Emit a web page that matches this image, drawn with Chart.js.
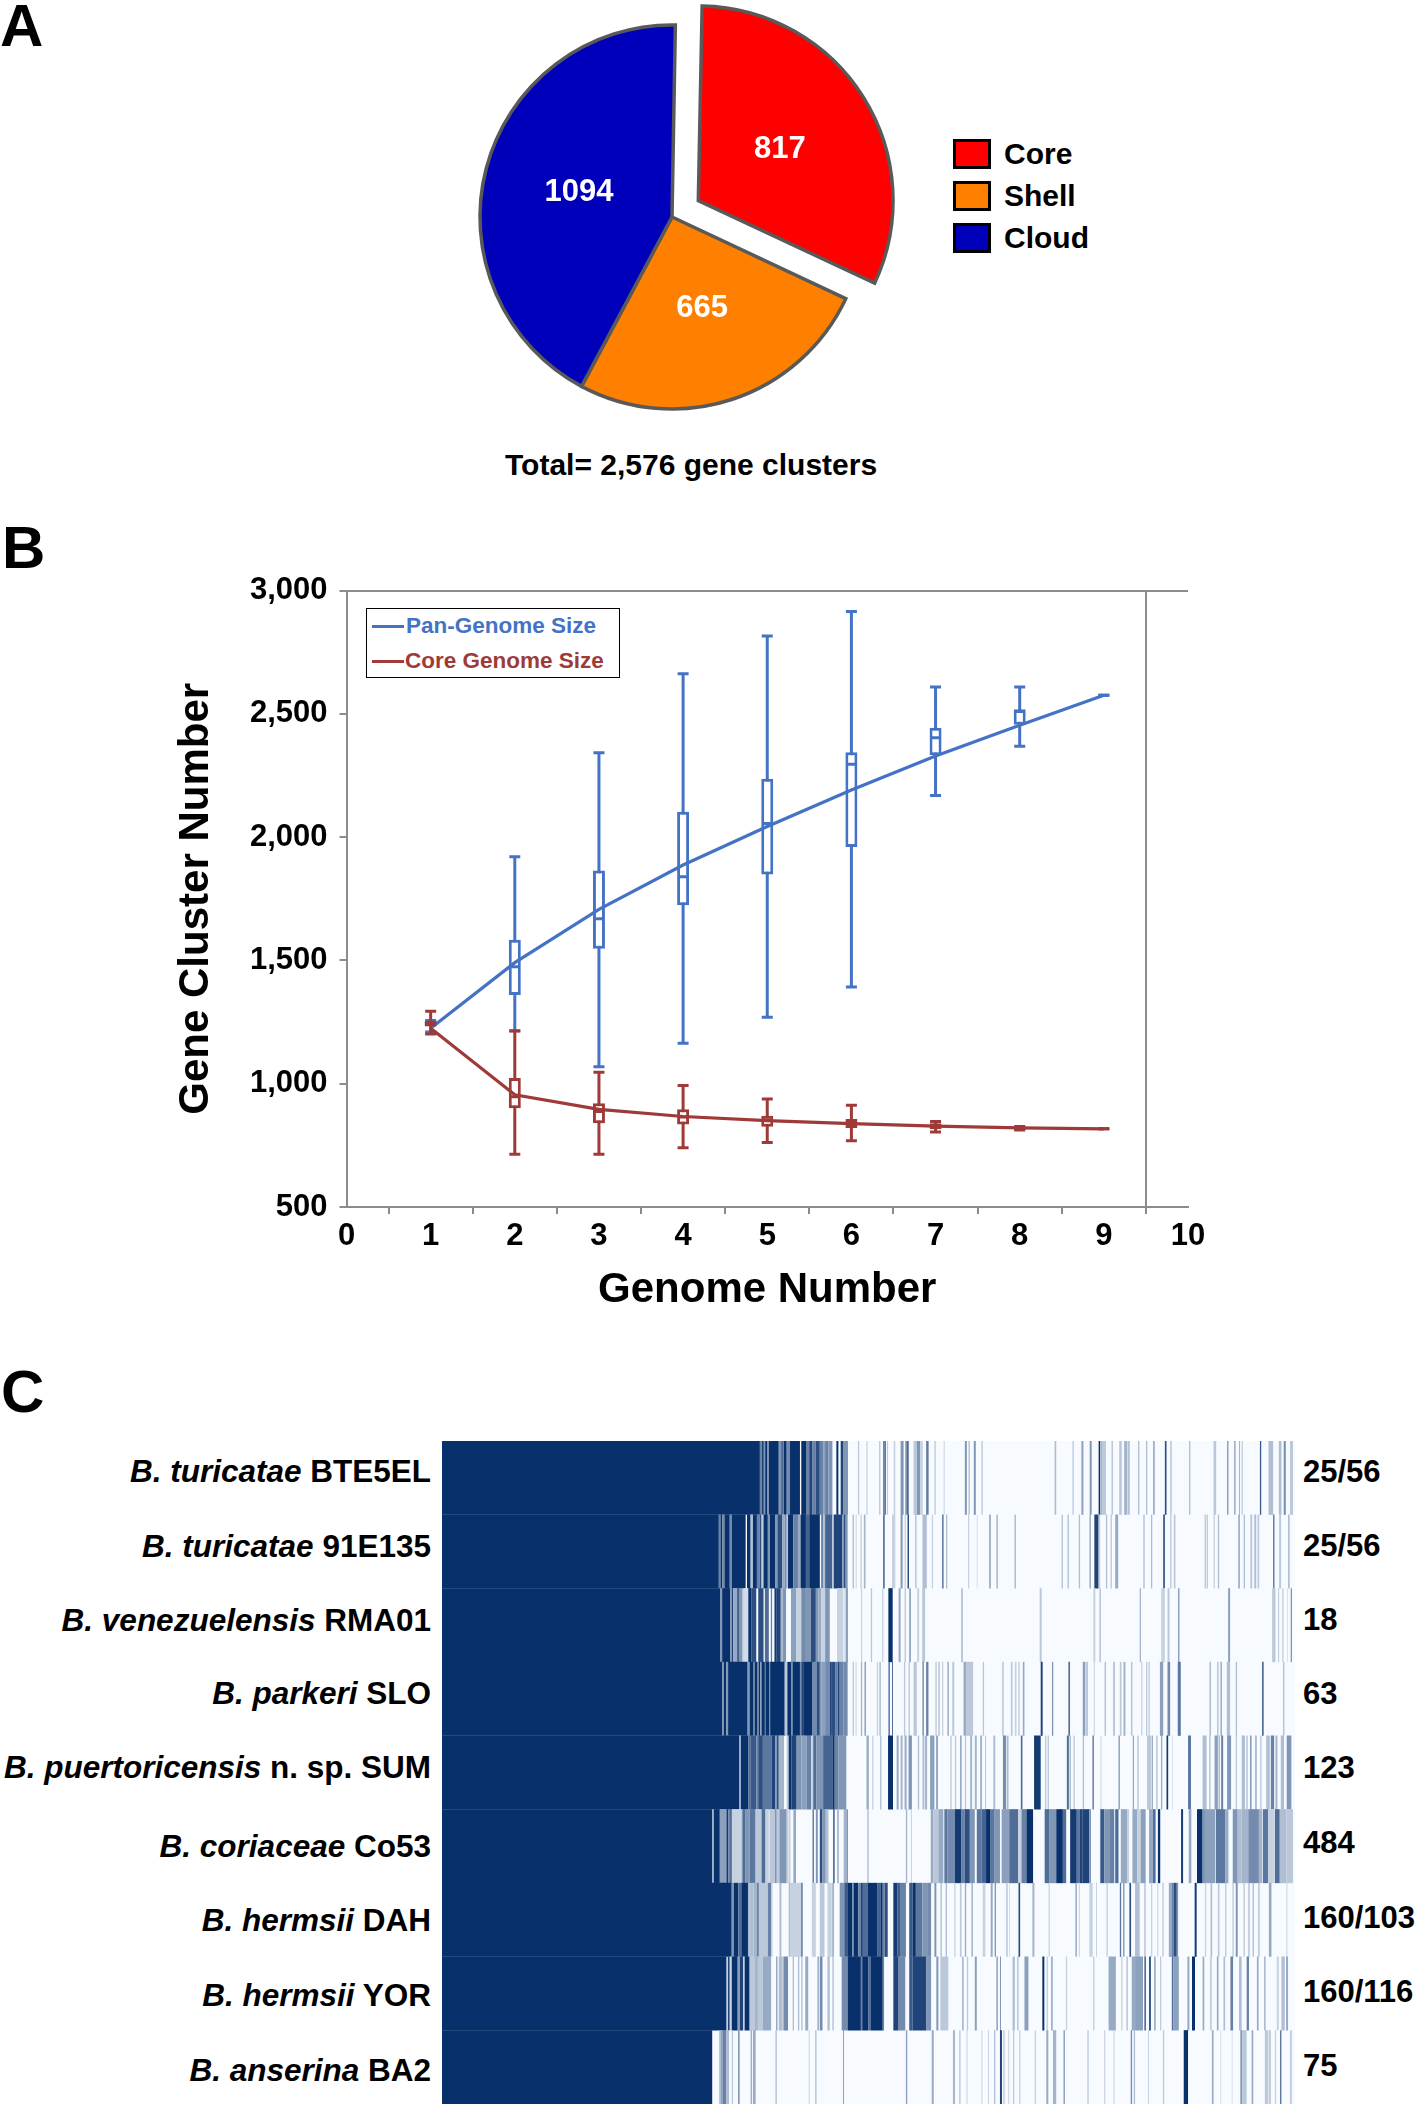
<!DOCTYPE html>
<html>
<head>
<meta charset="utf-8">
<script src="https://cdn.jsdelivr.net/npm/chart.js@4/dist/chart.umd.min.js"></script>
<style>
  html, body { margin: 0; padding: 0; background: #fff; }
  #page { position: relative; width: 1416px; height: 2107px; overflow: hidden; font-family: "Liberation Sans", Arial, sans-serif; font-weight: bold; color: #000; }
  #page canvas { position: absolute; }
  .txt { position: absolute; white-space: nowrap; line-height: 1; transform: translateY(-50%); }
  .swatch { position: absolute; width: 32px; height: 24px; border: 3px solid #000; }
  .strain { right: 985px; font-size: 31.5px; }
  .count { left: 1303px; font-size: 31px; }
  #lineLegend { position: absolute; left: 366px; top: 608px; width: 252px; height: 68px; border: 1.5px solid #000; background: #fff; }
  #lineLegend span.key { position: absolute; left: 5px; width: 32px; height: 3px; }
  #lineLegend .txt { font-size: 22.5px; }
</style>
</head>
<body>
<div id="page">
  <div class="txt" style="left:0;top:26px;font-size:60px">A</div>
  <div class="txt" style="left:2px;top:548px;font-size:60px">B</div>
  <div class="txt" style="left:1px;top:1392px;font-size:60px">C</div>

  <canvas id="pieChart"></canvas>
  <div class="swatch" style="left:953px;top:139px;background:#FF0000"></div>
  <div class="swatch" style="left:953px;top:181px;background:#FF8000"></div>
  <div class="swatch" style="left:953px;top:223px;background:#0000BB"></div>
  <div class="txt" style="left:1004px;top:154px;font-size:30px">Core</div>
  <div class="txt" style="left:1004px;top:196px;font-size:30px">Shell</div>
  <div class="txt" style="left:1004px;top:238px;font-size:30px">Cloud</div>
  <div class="txt" style="left:505px;top:465px;font-size:30px">Total= 2,576 gene clusters</div>

  <canvas id="lineChart"></canvas>
  <div id="lineLegend">
    <span class="key" style="top:16px;background:#4472C4"></span>
    <div class="txt" style="left:39px;top:17px;color:#4472C4">Pan-Genome Size</div>
    <span class="key" style="top:51px;background:#9E3A38"></span>
    <div class="txt" style="left:38px;top:52px;color:#9E3A38">Core Genome Size</div>
  </div>

  <canvas id="heatChart"></canvas>
  <div class="txt strain" style="top:1472px"><i>B. turicatae</i> BTE5EL</div>
  <div class="txt strain" style="top:1547px"><i>B. turicatae</i> 91E135</div>
  <div class="txt strain" style="top:1621px"><i>B. venezuelensis</i> RMA01</div>
  <div class="txt strain" style="top:1694px"><i>B. parkeri</i> SLO</div>
  <div class="txt strain" style="top:1768px"><i>B. puertoricensis</i> n. sp. SUM</div>
  <div class="txt strain" style="top:1847px"><i>B. coriaceae</i> Co53</div>
  <div class="txt strain" style="top:1921px"><i>B. hermsii</i> DAH</div>
  <div class="txt strain" style="top:1996px"><i>B. hermsii</i> YOR</div>
  <div class="txt strain" style="top:2071px"><i>B. anserina</i> BA2</div>
  <div class="txt count" style="top:1471px">25/56</div>
  <div class="txt count" style="top:1545px">25/56</div>
  <div class="txt count" style="top:1619px">18</div>
  <div class="txt count" style="top:1693px">63</div>
  <div class="txt count" style="top:1767px">123</div>
  <div class="txt count" style="top:1842px">484</div>
  <div class="txt count" style="top:1917px">160/103</div>
  <div class="txt count" style="top:1991px">160/116</div>
  <div class="txt count" style="top:2065px">75</div>
</div>

<script>
// Panel A
const pieLabels = ['Core', 'Shell', 'Cloud'];
const pieValues = [817, 665, 1094];
const pieColors = ['#FF0000', '#FF8000', '#0000BB'];

// Panel B: values for genome numbers 1..9
const genomeTicks = ['0', '1', '2', '3', '4', '5', '6', '7', '8', '9', '10'];
const panMean   = [1225, 1491, 1707, 1887, 2043, 2191, 2329, 2454, 2576];
const panMax    = [1256, 1921, 2342, 2663, 2816, 2915, 2609, 2609, 2576];
const panQ3     = [1250, 1584, 1865, 2103, 2237, 2344, 2444, 2519, null];
const panMedian = [1245, 1474, 1669, 1839, 2055, 2296, 2403, 2510, null];
const panQ1     = [1235, 1360, 1547, 1724, 1849, 1960, 2332, 2456, null];
const panMin    = [1210, 1215, 1069, 1164, 1270, 1392, 2169, 2369, 2576];
const coreMean   = [1225, 955, 896, 867, 850, 838, 828, 821, 817];
const coreMax    = [1294, 1214, 1047, 993, 938, 913, 847, 826, 817];
const coreQ3     = [1256, 1023, 921, 896, 870, 857, 840, 826, null];
const coreMedian = [1245, 947, 887, 865, 853, 845, 828, 820, null];
const coreQ1     = [1232, 901, 840, 835, 825, 820, 815, 812, null];
const coreMin    = [1202, 714, 714, 740, 762, 769, 804, 812, 817];

// Panel C: runs of gene clusters [first, last, share present] (share 1 if left out)
const totalClusters = 2576;
const strains = ['BTE5EL', '91E135', 'RMA01', 'SLO', 'SUM', 'Co53', 'DAH', 'YOR', 'BA2'];
const runsBTE5EL = [[0,960],[960,965,.6],[965,972,.9],[972,976,.5],[976,983],[983,987,.5],[987,1017],[1017,1025,.5],[1025,1029],[1029,1032,.6],[1032,1041],[1041,1051,.55],[1051,1081],[1085,1101],[1101,1109,.6],[1109,1119,.9],[1119,1129,.6],[1129,1141,.85],[1141,1151,.6],[1151,1157,.45],[1157,1167,.6],[1167,1179,.5],[1191,1197],[1204,1211,.9],[1211,1226,.5],
  [1256,1260,.25],[1282,1285,.25],[1320,1324,.25],[1332,1337,.6],[1337,1340,.9],[1344,1347,.25],[1364,1369,.2],[1385,1394,.5],[1399,1405,.5],[1405,1409,.9],[1424,1434,.25],[1434,1444,.5],[1444,1452,.2],[1462,1466,.6],[1466,1469,.9],[1487,1491,.25],[1515,1518,.2],[1579,1585,.5],[1590,1594,.3],[1606,1612,.5],[1629,1633,.25],
  [1850,1855,.3],[1904,1908,.25],[1931,1937,.45],[1956,1962,.5],[1983,1988],[1990,1995,.35],[1995,2005,.25],[2022,2026,.3],[2045,2053,.25],[2060,2070,.35],[2073,2076,.5],[2102,2106,.3],[2126,2130,.3],[2148,2152,.5],[2183,2188,.85],[2200,2203,.4],[2256,2260,.3],[2330,2338,.25],[2371,2375,.5],[2393,2396,.6],[2407,2410,.35],[2415,2418,.3],[2470,2474,.8],[2496,2510,.3],[2527,2535,.3],[2542,2548,.55],[2561,2570,.25]];
const runs91E135 = [[0,836],[836,841,.6],[841,847],[847,853,.55],[853,869],[869,875,.55],[875,917],[921,932],[932,939,.3],[939,951],[951,959,.6],[959,965,.85],[965,971,.25],[971,984],[984,990,.5],[990,1007],[1007,1013,.5],[1013,1027,.85],[1027,1035,.4],[1035,1041,.55],[1041,1045,.25],[1045,1061],[1061,1075,.6],[1075,1083,.4],[1083,1099],[1099,1109,.75],[1109,1141],[1145,1151,.6],[1151,1157,.3],[1157,1179,.75],[1179,1183,.2],[1183,1209,.9],[1209,1213,.5],[1213,1219,.85],[1219,1225,.5],
  [1240,1244,.3],[1249,1253,.15],[1264,1267,.3],[1274,1279,.35],[1332,1337,.7],[1359,1369,.2],[1385,1391,.5],[1397,1401,.2],[1406,1410,.95],[1429,1433,.3],[1451,1464,.3],[1479,1483,.2],[1510,1515,.6],[1522,1526,.3],[1589,1592,.25],[1615,1617,.2],[1652,1658,.35],[1674,1679,.3],
  [1729,1733,.35],[1871,1875,.3],[1889,1893,.3],[1923,1927,.3],[1955,1960,.35],[1970,1983,.9],[1983,1988,.2],[2005,2009,.3],[2019,2023,.25],[2033,2042,.4],[2118,2122,.3],[2141,2145,.3],[2178,2183,.85],[2199,2203,.25],[2210,2215,.25],[2303,2307,.25],[2309,2313,.25],[2330,2334,.2],[2343,2347,.3],[2405,2409,.5],[2421,2425,.3],[2441,2447,.25],[2453,2459,.3],[2463,2468,.25],[2510,2514,.7],[2528,2534,.25],[2555,2560,.3]];
const runsRMA01 = [[0,841],[841,846,.5],[846,871],[871,875,.5],[875,879,.9],[879,891,.4],[891,899,.75],[899,907,.5],[907,911,.3],[911,925,.15],[925,935],[935,949,.85],[955,971,.85],[975,987,.7],[993,997,.6],[1004,1011,.95],[1011,1023,.9],[1023,1029,.35],[1029,1039,.5],[1054,1069,.45],[1069,1085,.2],[1085,1099,.55],[1099,1114,.5],[1114,1129,.85],[1129,1137,.5],[1137,1145,.4],[1145,1157,.2],[1157,1171,.5],[1193,1211,.2],[1211,1219,.1],[1219,1226,.45],
  [1266,1269,.25],[1295,1299,.25],[1329,1333,.2],[1348,1361],[1379,1385,.4],[1397,1401,.25],[1411,1416,.45],[1435,1441,.2],[1450,1459,.25],[1568,1573,.3],
  [1805,1811,.25],[1967,1973,.2],[1985,1990,.25],[2107,2111,.35],[2172,2183,.2],[2191,2197,.25],[2223,2227,.5],[2374,2380,.45],[2507,2517,.25],[2525,2528,.25],[2538,2541,.3],[2553,2555,.2],[2563,2567,.5]];
const runsSLO = [[0,847],[847,851,.5],[851,859],[859,864,.5],[864,923],[923,929,.5],[929,941],[941,945,.6],[945,953],[953,957,.6],[957,961],[961,965,.5],[965,975],[975,978,.7],[978,988],[988,991,.6],[991,1035],[1035,1043,.25],[1043,1055],[1055,1059,.6],[1059,1081],[1081,1085,.55],[1085,1093,.9],[1093,1119],[1119,1131,.55],[1131,1141,.85],[1141,1145,.5],[1145,1157,.45],[1157,1171,.55],[1171,1175,.9],[1175,1187,.85],[1187,1195,.6],[1195,1201,.9],[1201,1213,.6],[1213,1225,.55],
  [1240,1244,.25],[1249,1252,.2],[1265,1269,.35],[1276,1280,.5],[1313,1317,.2],[1321,1325,.35],[1348,1353,.6],[1359,1362,.7],[1395,1399,.25],[1409,1413,.25],[1424,1434,.25],[1451,1455,.6],[1462,1469,.6],[1490,1494,.25],[1499,1503,.3],[1510,1514,.2],[1526,1531,.35],[1541,1547,.25],[1575,1584,.4],[1584,1604,.25],[1633,1637,.25],
  [1691,1697,.2],[1718,1723,.25],[1730,1735,.2],[1740,1745,.2],[1754,1759,.4],[1808,1814,.9],[1842,1846,.5],[1892,1896,.85],[1935,1943,.45],[1945,1951,.25],[1968,1972,.15],[2001,2005,.3],[2027,2032,.3],[2047,2052,.25],[2058,2064,.35],[2081,2085,.3],[2112,2115,.25],[2126,2130,.25],[2134,2137,.3],[2168,2178,.45],[2191,2199,.55],[2222,2231,.65],[2318,2322,.35],[2341,2345,.3],[2351,2355,.45],[2370,2380,.3],[2397,2401,.3],[2477,2481,.9],[2540,2544,.3]];
const runsSUM = [[0,897],[897,903,.4],[903,925],[925,931,.7],[931,949,.8],[949,955,.6],[955,969,.85],[969,995,.65],[995,1007,.9],[1007,1011,.5],[1011,1017,.85],[1017,1033,.35],[1041,1047,.25],[1047,1055],[1055,1071,.9],[1071,1085,.5],[1085,1101,.45],[1101,1115,.6],[1115,1121,.2],[1121,1131,.7],[1131,1151,.5],[1151,1179,.75],[1179,1186],[1186,1197,.6],[1197,1211,.5],[1211,1221,.5],
  [1282,1289,.4],[1299,1303,.2],[1323,1327,.3],[1347,1362],[1373,1379,.4],[1385,1391,.35],[1397,1403,.4],[1409,1419,.5],[1437,1441,.3],[1451,1457,.3],[1459,1465,.35],[1474,1487,.45],[1493,1497,.6],[1535,1539,.25],[1549,1553,.25],[1565,1569,.5],[1579,1583,.25],[1595,1601,.35],[1609,1615,.35],[1625,1631,.35],[1641,1643,.4],[1665,1671,.3],
  [1694,1703,.55],[1705,1711,.3],[1748,1753,.7],[1788,1808,.95],[1821,1825,.25],[1829,1833,.25],[1887,1893,.7],[1895,1899,.35],[1907,1911,.25],[1935,1939,.3],[1964,1969,.55],[1988,1992,.15],[2043,2047,.5],[2086,2090,.4],[2100,2104,.3],[2129,2141,.25],[2143,2147,.4],[2157,2161,.3],[2172,2175,.5],[2188,2193,.95],[2205,2207,.2],[2253,2262,.65],[2297,2309,.3],[2317,2321,.3],[2333,2343,.45],[2345,2349,.35],[2353,2359,.6],[2371,2383,.5],[2397,2401,.25],[2415,2425,.3],[2429,2433,.3],[2440,2445,.45],[2455,2461,.3],[2471,2475,.25],[2489,2500,.3],[2503,2513,.6],[2517,2523,.35],[2533,2543,.3],[2551,2565,.5]];
const runsCo53 = [[0,816],[816,821,.4],[821,839],[839,859,.45],[859,865,.95],[865,871,.6],[871,875],[875,901,.2],[901,907,.25],[907,917,.7],[917,929,.5],[929,947,.65],[947,965,.25],[965,977,.7],[977,987,.2],[989,1005,.25],[1005,1011,.5],[1011,1019,.25],[1019,1041,.5],[1041,1047,.2],[1049,1052,.3],[1061,1069,.4],[1119,1123,.7],[1129,1135,.5],[1141,1149,.85],[1149,1159,.5],[1159,1167,.3],[1181,1186,.7],[1193,1199,.3],[1213,1221,.35],[1221,1226,.5],
  [1284,1289,.25],[1401,1405,.35],[1416,1419,.2],[1476,1484,.4],[1484,1499,.25],[1499,1514,.4],[1517,1527,.65],[1527,1549,.55],[1549,1569,.95],[1569,1579,.6],[1579,1594,.85],[1594,1609,.5],[1615,1629,.65],[1629,1643,.75],[1643,1655],[1655,1669,.65],[1669,1685,.5],
  [1690,1713,.45],[1713,1740,.7],[1740,1750,.2],[1750,1765,.6],[1765,1785],[1820,1835,.7],[1835,1855,.5],[1855,1875],[1875,1885,.7],[1897,1917,.95],[1917,1925,.65],[1925,1935,.9],[1935,1955,.9],[1955,1960,.5],[1988,2000,.8],[2000,2015,.5],[2015,2030,.6],[2033,2043,.7],[2050,2070,.4],[2070,2075,.2],[2085,2100,.4],[2100,2110,.2],[2110,2125,.45],[2135,2147,.4],[2147,2155,.7],[2162,2169],[2232,2238,.95],[2255,2263,.4],[2280,2297],[2297,2307,.5],[2307,2335,.45],[2337,2365,.65],[2365,2375,.4],[2388,2403,.5],[2403,2415,.3],[2415,2435,.35],[2435,2467,.55],[2467,2477,.35],[2479,2495,.65],[2495,2513,.2],[2515,2530,.7],[2530,2550,.3],[2550,2570,.25]];
const runsDAH = [[0,875],[875,881,.5],[881,895],[895,904,.7],[904,924],[924,929,.35],[929,941,.3],[941,951,.35],[951,957,.6],[957,984,.25],[984,995,.6],[995,999,.15],[1019,1025,.3],[1047,1051,.3],[1051,1063,.2],[1063,1085,.2],[1085,1089,.75],[1117,1129,.2],[1141,1155,.25],[1164,1177,.2],[1179,1183,.5],[1201,1215,.5],[1215,1226,.8],
  [1226,1239],[1239,1244,.6],[1244,1257],[1257,1265,.6],[1265,1271,.9],[1271,1285,.7],[1285,1314],[1314,1324,.75],[1324,1331],[1331,1337,.6],[1337,1346,.85],
  [1363,1375,.95],[1375,1383,.8],[1383,1401,.6],[1411,1421,.8],[1421,1431],[1431,1451,.65],[1451,1465,.5],[1465,1477,.55],
  [1487,1493,.5],[1505,1510,.25],[1521,1525,.3],[1547,1551,.2],[1564,1569,.25],[1579,1583,.4],[1599,1603,.4],[1633,1641,.2],[1657,1663,.4],[1669,1673,.5],
  [1703,1709,.2],[1713,1715,.2],[1741,1746,.85],[1783,1789,.35],[1832,1835,.25],[1913,1917,.45],[1923,1926,.2],[1955,1965,.2],[1975,1978,.2],[2007,2010,.3],[2047,2051,.65],[2057,2061,.5],[2076,2081,.85],[2093,2107,.3],[2121,2125,.3],[2141,2145,.2],[2160,2163,.2],[2175,2180,.2],[2195,2203,.4],[2203,2209,.6],[2209,2219,.85],[2219,2223,.5],[2273,2279,.95],[2304,2308,.2],[2321,2326,.3],[2343,2348,.25],[2365,2369,.25],[2387,2391,.25],[2397,2403,.5],[2420,2425,.2],[2435,2439,.3],[2448,2452,.3],[2465,2469,.3],[2497,2505,.4],[2550,2553,.2]];
const runsYOR = [[0,859],[863,869,.9],[869,875,.2],[875,893],[893,899,.45],[899,909,.9],[909,914,.2],[914,929],[929,944,.25],[944,954,.35],[954,969,.25],[969,994,.4],[1009,1013,.45],[1017,1029,.3],[1031,1045,.55],[1059,1063,.3],[1075,1079,.3],[1085,1089,.3],[1097,1106,.4],[1134,1138,.45],[1141,1149,.55],[1164,1171,.3],[1179,1183,.3],[1207,1225,.55],
  [1225,1265],[1265,1269,.6],[1269,1287],[1287,1294,.7],[1294,1331],[1331,1335,.6],
  [1363,1379,.9],[1379,1399,.55],[1411,1421,.8],[1421,1463,.9],[1463,1477,.5],[1493,1499,.5],[1505,1529,.25],[1571,1575,.4],[1585,1589,.25],[1609,1615,.45],[1674,1679,.4],
  [1685,1688,.5],[1723,1730,.3],[1737,1741,.3],[1759,1771,.45],[1813,1819],[1826,1829,.3],[1840,1844,.5],[1884,1888,.2],[1967,1970,.3],[2013,2035,.4],[2051,2055,.2],[2067,2071,.3],[2083,2093,.4],[2093,2117,.45],[2121,2126,.7],[2135,2141,.8],[2151,2155,.5],[2169,2172,.3],[2204,2209,.7],[2209,2225,.45],[2251,2257,.4],[2265,2274],[2297,2302,.4],[2319,2325,.2],[2340,2345,.4],[2360,2365,.3],[2381,2389,.6],[2407,2415,.3],[2430,2437,.6],[2461,2466,.4],[2483,2487,.4],[2521,2527,.2],[2535,2545,.3],[2549,2555,.4]];
const runsBA2 = [[0,816],[837,841,.3],[841,847,.45],[847,859,.6],[859,867,.3],[875,879,.25],[894,899,.5],[932,936,.4],[939,947,.4],[1007,1011,.3],[1107,1111,.15],[1127,1131,.3],[1211,1214,.45],[1401,1405,.45],[1479,1485,.4],[1543,1549,.35],[1562,1566,.25],[1584,1587,.2],[1629,1632,.2],[1649,1652,.2],[1667,1671,.3],
  [1685,1691,.9],[1695,1699,.25],[1710,1713,.2],[1725,1728,.3],[1743,1747,.2],[1790,1794,.2],[1825,1831,.4],[1845,1855,.35],[1877,1881,.5],[1949,1953,.25],[2000,2003,.25],[2028,2031,.2],[2080,2084,.55],[2089,2093,.3],[2132,2135,.2],[2177,2181,.25],[2240,2253],[2325,2330,.4],[2351,2353,.2],[2385,2387,.2],[2411,2417,.5],[2417,2430,.25],[2445,2450,.4],[2485,2495,.25],[2497,2503,.25],[2515,2519,.2],[2531,2535,.7],[2561,2566,.25]];
const allRuns = [runsBTE5EL, runs91E135, runsRMA01, runsSLO, runsSUM, runsCo53, runsDAH, runsYOR, runsBA2];

Chart.defaults.animation = false;
Chart.defaults.font.family = '"Liberation Sans", Arial, sans-serif';
Chart.defaults.plugins.legend.display = false;
Chart.defaults.plugins.tooltip.enabled = false;

const place = (id, left, top, w, h) => {
    const c = document.getElementById(id);
    c.style.left = left + 'px';
    c.style.top = top + 'px';
    c.style.width = w + 'px';
    c.style.height = h + 'px';
    c.width = w;
    c.height = h;
    return c;
};

// ---- A: pie, the Core slice pulled out
const pieOffset = [124, 0, 0];
const sliceNumbers = {
    id: 'sliceNumbers',
    afterDatasetsDraw(chart) {
        const ctx = chart.ctx;
        ctx.save();
        ctx.fillStyle = '#fff';
        ctx.font = 'bold 31px "Liberation Sans"';
        ctx.textAlign = 'center';
        ctx.textBaseline = 'middle';
        chart.getDatasetMeta(0).data.forEach((arc, i) => {
            const mid = (arc.startAngle + arc.endAngle) / 2;
            const r = arc.outerRadius / 2 + pieOffset[i] / 4;
            ctx.fillText(pieValues[i], arc.x + Math.cos(mid) * r, arc.y + Math.sin(mid) * r);
        });
        ctx.restore();
    }
};
new Chart(place('pieChart', 422, 2, 500, 430), {
    type: 'pie',
    plugins: [sliceNumbers],
    data: {
        labels: pieLabels,
        datasets: [{
            data: pieValues,
            backgroundColor: pieColors,
            borderColor: '#595959',
            borderWidth: 3.5,
            borderJoinStyle: 'miter',
            offset: pieOffset
        }]
    },
    options: { responsive: false, rotation: 1, radius: 192, layout: { padding: 0 } }
});

// ---- B: pan and core curves with box plots
const blue = '#4472C4';
const brick = '#9E3A38';
const pad = (arr) => [null, ...arr, null];
const zip = (lo, hi) => pad(lo.map((v, i) => (v === null ? null : [v, hi[i]])));

const curve = (label, values, color) => ({
    type: 'line', label, data: pad(values), borderColor: color, borderWidth: 3.2,
    pointRadius: 0, tension: 0, fill: false, spanGaps: false
});
const marks = (values, color, r) => ({
    type: 'line', data: pad(values), showLine: false, pointStyle: 'line',
    pointRadius: r, pointBorderWidth: 3, pointBorderColor: color, pointBackgroundColor: color
});
const box = (lo, hi, color) => ({
    type: 'bar', data: zip(lo, hi), grouped: false, barThickness: 12, borderWidth: 3,
    borderSkipped: false, borderColor: color, backgroundColor: '#fff', inflateAmount: 0
});
const whisker = (lo, hi, color) => ({
    type: 'bar', data: zip(lo, hi), grouped: false, barThickness: 3, borderWidth: 0,
    backgroundColor: color, inflateAmount: 0
});
const axisGray = '#8C8C8C';
const tickFont = { size: 31, weight: 'bold' };
const titleFont = { size: 42, weight: 'bold' };

new Chart(place('lineChart', 150, 560, 1100, 770), {
    data: {
        labels: genomeTicks,
        datasets: [
            curve('Core Genome Size', coreMean, brick),
            marks(coreMedian, brick, 5), marks(coreMax, brick, 5.5), marks(coreMin, brick, 5.5),
            box(coreQ1, coreQ3, brick), whisker(coreMin, coreMax, brick),
            curve('Pan-Genome Size', panMean, blue),
            marks(panMedian, blue, 5), marks(panMax, blue, 5.5), marks(panMin, blue, 5.5),
            box(panQ1, panQ3, blue), whisker(panMin, panMax, blue)
        ]
    },
    options: {
        responsive: false,
        layout: { padding: { top: 28, right: 62, left: 0, bottom: 0 } },
        scales: {
            x: {
                offset: false,
                afterFit: (s) => { s.height = 123; },
                border: { color: axisGray, width: 2 },
                grid: { drawOnChartArea: true, color: (c) => (c.index === 10 ? axisGray : 'transparent'), tickColor: axisGray, tickLength: 7, lineWidth: 2 },
                ticks: { color: '#000', font: tickFont, padding: 4, maxRotation: 0, autoSkip: false },
                title: { display: true, text: 'Genome Number', color: '#000', font: titleFont, padding: { top: 0, bottom: 14 } }
            },
            y: {
                min: 500,
                max: 3000,
                afterFit: (s) => { s.width = 196.5; },
                border: { color: axisGray, width: 2 },
                grid: { color: (c) => (c.tick.value === 3000 ? axisGray : 'transparent'), tickColor: axisGray, tickLength: 7, lineWidth: 2 },
                ticks: { stepSize: 500, color: '#000', font: tickFont, padding: 12 },
                title: { display: true, text: 'Gene Cluster Number', color: '#000', font: titleFont, padding: { top: 21, bottom: 0 } }
            }
        }
    }
});

// ---- C: gene cluster presence per strain
const blues = (level) => {
    const mix = (a, b) => Math.round(a + (b - a) * level);
    return `rgb(${mix(247, 8)},${mix(251, 48)},${mix(255, 107)})`;
};
const stripeData = [];
allRuns.forEach((runs, i) => {
    runs.forEach(([start, end, level]) => {
        stripeData.push({ y: strains[i], x: [start, end], level: level === undefined ? 1 : level });
    });
});
new Chart(place('heatChart', 442, 1441, 853, 663), {
    type: 'bar',
    data: {
        labels: strains,
        datasets: [
            { data: stripeData, backgroundColor: (c) => blues(c.raw ? c.raw.level : 1), grouped: false, barThickness: 74, borderWidth: 0, inflateAmount: 0 },
            { data: strains.map((s) => ({ y: s, x: [0, totalClusters] })), backgroundColor: blues(0), grouped: false, barThickness: 74, borderWidth: 0, inflateAmount: 0 }
        ]
    },
    options: {
        responsive: false,
        indexAxis: 'y',
        layout: { padding: 0 },
        scales: {
            x: { type: 'linear', display: false, min: 0, max: totalClusters },
            y: { type: 'category', display: false, offset: true }
        }
    }
});
</script>
</body>
</html>
